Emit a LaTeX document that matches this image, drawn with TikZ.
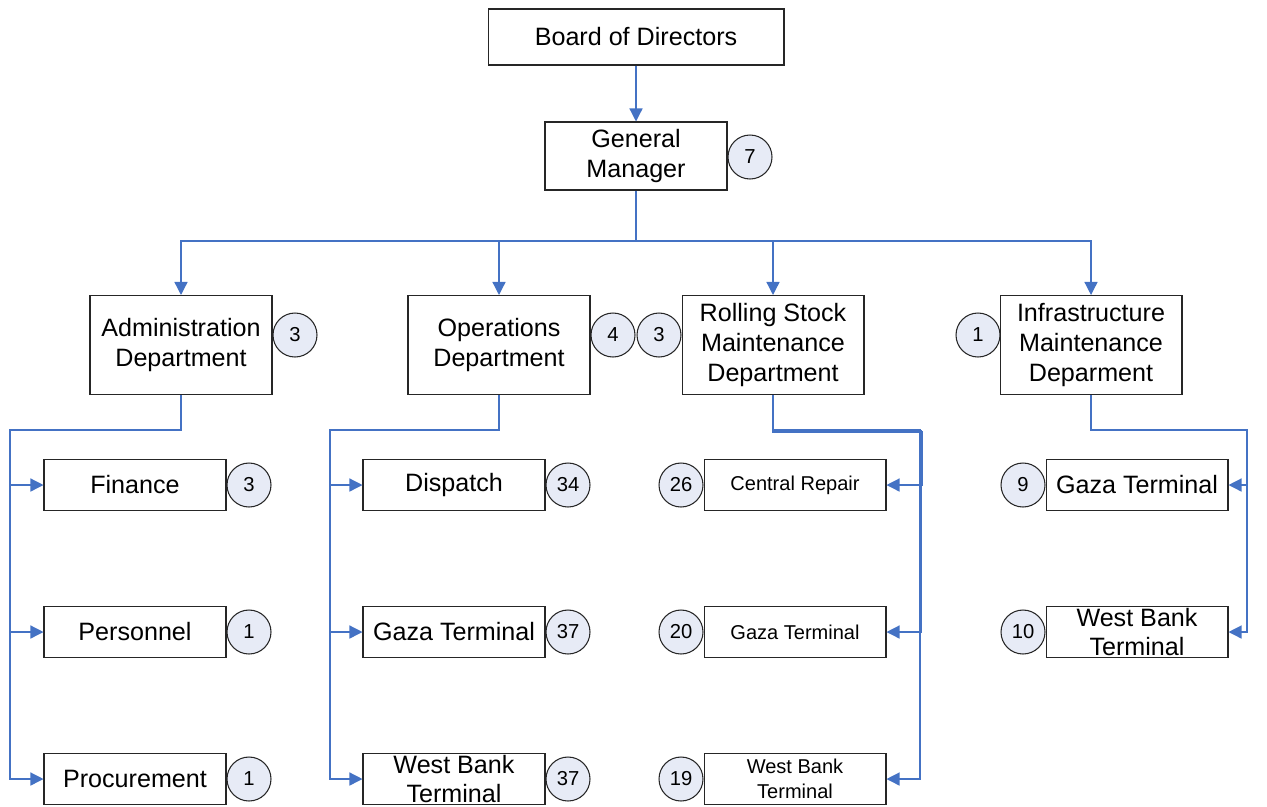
\documentclass[tikz,border=0pt]{standalone}
\usepackage{fontspec}
\setmainfont{Liberation Sans}
\usetikzlibrary{arrows.meta,positioning}
\definecolor{linkblue}{RGB}{68,114,196}
\definecolor{badgefill}{RGB}{231,235,246}
\tikzset{
  unitbox/.style={rectangle,draw=black!85,line width=0.6pt,fill=white,
    minimum width=3.64cm,align=center,inner sep=2pt,
    font=\fontsize{14.3}{17}\selectfont},
  deptbox/.style={unitbox,minimum height=1.98cm},
  subbox/.style={unitbox,minimum height=1.02cm},
  smallsub/.style={subbox,font=\fontsize{11.4}{14.2}\selectfont},
  wbbox/.style={subbox,inner ysep=0pt},
  staffnum/.style={circle,draw=black!85,line width=0.6pt,fill=badgefill,
    minimum size=0.88cm,inner sep=0pt,font=\fontsize{11.5}{13}\selectfont},
  link/.style={-{Triangle[length=2.6mm,width=2.6mm]},draw=linkblue,line width=0.75pt},
  plainlink/.style={draw=linkblue,line width=0.75pt},
}

\begin{document}
\begin{tikzpicture}[x=0.02cm,y=-0.02cm]
  \useasboundingbox (0,0) rectangle (1267,806);

  % top of the chart
  \node[unitbox,minimum width=5.92cm,minimum height=1.12cm] (board) at (636,37) {Board of Directors};
  \node[unitbox,minimum height=1.36cm] (gm) at (636,156) {General\\Manager};
  \node[staffnum] (gmn) at (750,157) {7};

  % departments
  \node[deptbox] (admin)   at (181,345)  {Administration\\Department};
  \node[deptbox] (ops)     at (499,345)  {Operations\\Department};
  \node[deptbox] (rolling) at (773,345)  {Rolling Stock\\Maintenance\\Department};
  \node[deptbox] (infra)   at (1091,345) {Infrastructure\\Maintenance\\Deparment};
  \node[staffnum] (adminn)   at (295,335)  {3};
  \node[staffnum] (opsn)     at (613,335)  {4};
  \node[staffnum] (rollingn) at (659,335)  {3};
  \node[staffnum] (infran)   at (978,335)  {1};

  % administration units
  \node[subbox] (finance)     at (135,485) {Finance};
  \node[subbox] (personnel)   at (135,632) {Personnel};
  \node[subbox] (procurement) at (135,779) {Procurement};
  \node[staffnum] (financen)     at (249,485) {3};
  \node[staffnum] (personneln)   at (249,632) {1};
  \node[staffnum] (procurementn) at (249,779) {1};

  % operations units
  \node[subbox] (dispatch) at (454,485) {Dispatch};
  \node[subbox] (opsgaza)  at (454,632) {Gaza Terminal};
  \node[wbbox]  (opswb)    at (454,779) {West Bank\\Terminal};
  \node[staffnum] (dispatchn) at (568,485) {34};
  \node[staffnum] (opsgazan)  at (568,632) {37};
  \node[staffnum] (opswbn)    at (568,779) {37};

  % rolling stock units
  \node[smallsub] (repair)   at (795,485) {Central Repair};
  \node[smallsub] (rsgaza)   at (795,632) {Gaza Terminal};
  \node[smallsub] (rswb)     at (795,779) {West Bank\\Terminal};
  \node[staffnum] (repairn)  at (681,485) {26};
  \node[staffnum] (rsgazan)  at (681,632) {20};
  \node[staffnum] (rswbn)    at (681,779) {19};

  % infrastructure units
  \node[subbox] (infgaza) at (1137,485) {Gaza Terminal};
  \node[wbbox]  (infwb)   at (1137,632) {West Bank\\Terminal};
  \node[staffnum] (infgazan) at (1023,485) {9};
  \node[staffnum] (infwbn)   at (1023,632) {10};

  % trunk points
  \coordinate (bus)      at (636,241);
  \coordinate (admintrunk) at (10,430);
  \coordinate (opstrunk)   at (330,430);
  \coordinate (rstrunk)    at (920,430);
  \coordinate (inftrunk)   at (1247,430);

  \draw[link] (board) -- (gm);
  \draw[plainlink] (gm.south) -- (bus);
  \draw[link] (bus) -| (admin.north);
  \draw[link] (bus) -| (ops.north);
  \draw[link] (bus) -| (rolling.north);
  \draw[link] (bus) -| (infra.north);

  \draw[link] (admin.south) |- (admintrunk) |- (finance.west);
  \draw[link] (admin.south) |- (admintrunk) |- (personnel.west);
  \draw[link] (admin.south) |- (admintrunk) |- (procurement.west);

  \draw[link] (ops.south) |- (opstrunk) |- (dispatch.west);
  \draw[link] (ops.south) |- (opstrunk) |- (opsgaza.west);
  \draw[link] (ops.south) |- (opstrunk) |- (opswb.west);

  \draw[link] (rolling.south) |- ([shift={(2,2)}]rstrunk) |- (repair.east);
  \draw[link] (rolling.south) |- ([shift={(1,1)}]rstrunk) |- (rsgaza.east);
  \draw[link] (rolling.south) |- (rstrunk) |- (rswb.east);

  \draw[link] (infra.south) |- (inftrunk) |- (infgaza.east);
  \draw[link] (infra.south) |- (inftrunk) |- (infwb.east);
\end{tikzpicture}
\end{document}
